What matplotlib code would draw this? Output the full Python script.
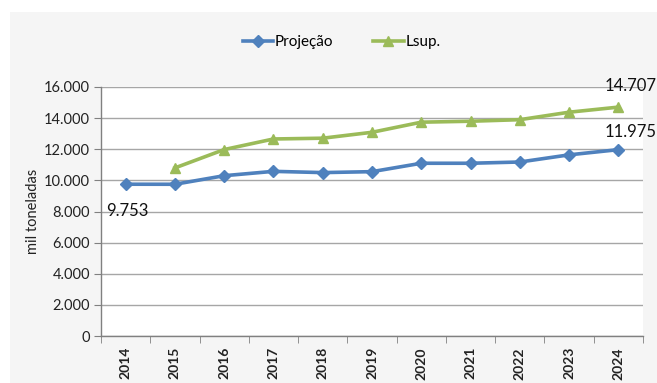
import matplotlib
matplotlib.use("Agg")
import matplotlib.pyplot as plt
from matplotlib.patches import Rectangle
from matplotlib.ticker import FuncFormatter, FixedLocator
import numpy as np

years = ["2014", "2015", "2016", "2017", "2018", "2019", "2020", "2021", "2022", "2023", "2024"]
projecao = [9753, 9750, 10300, 10580, 10500, 10560, 11100, 11100, 11180, 11640, 11975]
lsup = [None, 10800, 11980, 12660, 12710, 13090, 13740, 13800, 13900, 14380, 14707]

plt.rcParams['font.family'] = ['Lato', 'DejaVu Sans']

W, H = 657, 383
fig = plt.figure(figsize=(W / 100, H / 100), dpi=100)
fig.patch.set_facecolor('white')
fig.patches.append(Rectangle((10 / W, 0), 1 - 10 / W, 1 - 12 / H, transform=fig.transFigure,
                             facecolor='#f5f5f5', edgecolor='none', zorder=-10))

ax = fig.add_axes([101 / W, 1 - 336 / H, (643 - 101) / W, (336 - 87) / H])
ax.set_facecolor('white')

x = np.arange(len(years))
ax.plot(x, projecao, color='#4f81bd', lw=2.6, marker='D', ms=6.5, label='Projeção', zorder=3)
lx = [i for i, v in enumerate(lsup) if v is not None]
ly = [v for v in lsup if v is not None]
ax.plot(lx, ly, color='#9bbb59', lw=2.6, marker='^', ms=7.5, label='Lsup.', zorder=3)

ax.set_xlim(-0.5, len(years) - 0.5)
ax.set_ylim(0, 16000)
ax.set_yticks(np.arange(0, 16001, 2000))
ax.yaxis.set_major_formatter(FuncFormatter(lambda v, p: f"{int(v):,}".replace(",", ".")))
ax.yaxis.grid(True, color='#a6a6a6', lw=1)
ax.set_axisbelow(True)

ax.set_xticks(x)
ax.set_xticklabels(years, rotation=90, fontsize=10, color='#222222', fontweight='bold')
ax.tick_params(axis='x', length=0, pad=8)
ax.xaxis.set_minor_locator(FixedLocator(np.arange(-0.5, len(years), 1)))
ax.tick_params(axis='x', which='minor', length=5, color='#808080', direction='out')
ax.tick_params(axis='y', length=5, color='#808080', labelsize=10.5, labelcolor='#222222', pad=3)

for s in ['top', 'right']:
    ax.spines[s].set_visible(False)
for s in ['left', 'bottom']:
    ax.spines[s].set_color('#808080')
    ax.spines[s].set_linewidth(1)

ax.set_ylabel('mil toneladas', fontsize=10.5, color='#222222', labelpad=3)

def fmt(v):
    return f"{v:,}".replace(",", ".")

ax.annotate(fmt(projecao[0]), (0, projecao[0]), xytext=(1, -19), textcoords='offset points',
            ha='center', va='center', fontsize=12, color='#111111')
ax.annotate(fmt(projecao[-1]), (10, projecao[-1]), xytext=(9, 13), textcoords='offset points',
            ha='center', va='center', fontsize=12, color='#111111')
ax.annotate(fmt(lsup[-1]), (10, lsup[-1]), xytext=(9, 15), textcoords='offset points',
            ha='center', va='center', fontsize=12, color='#111111')

fig.legend(loc='center', bbox_to_anchor=(0.52, 1 - 42 / H), ncol=2, frameon=False,
           fontsize=11, handlelength=2.0, columnspacing=2.6, handletextpad=0.1)

fig.savefig('out.png', dpi=100)
